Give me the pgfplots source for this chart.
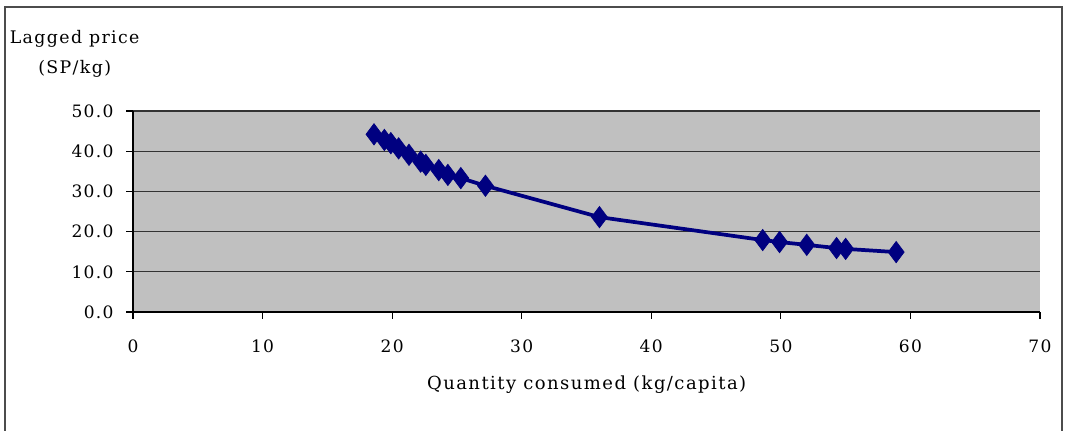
\documentclass[border=0pt]{standalone}
\usepackage{pgfplots}
\pgfplotsset{compat=1.18}
\usepackage{fontspec}
\setmainfont{DejaVu Serif}[LetterSpace=8]
\definecolor{navyblue}{RGB}{0,0,128}
\definecolor{plotbg}{RGB}{192,192,192}
\pgfplotstableread{
x y
18.6 44.2
19.4 42.8
19.9 42.0
20.5 40.7
21.3 39.1
22.2 37.4
22.6 36.6
23.6 35.3
24.3 34.1
25.3 33.3
27.2 31.4
36.0 23.6
48.6 17.9
49.9 17.4
52.0 16.7
54.3 15.9
55.0 15.7
58.9 14.9
}\datatable
\begin{document}
\begin{tikzpicture}[x=1pt,y=1pt]
\useasboundingbox (0,0) rectangle (798.75,323.25);
\draw[line width=1pt, black!70] (3.75,0) -- (3.75,318) -- (796.5,318) -- (796.5,0);
\node[align=center, font=\fontsize{13}{22.5}\selectfont] at (56,283) {Lagged price\\(SP/kg)};
\node[font=\fontsize{13.5}{15}\selectfont] at (440,35) {Quantity consumed (kg/capita)};
\begin{axis}[
  at={(99.75pt,89.25pt)}, anchor=south west,
  scale only axis, width=680.25pt, height=150.75pt,
  xmin=0, xmax=70, ymin=0, ymax=50,
  xtick={0,10,...,70}, ytick={0,10,...,50},
  axis x line*=bottom, axis y line*=left,
  axis line style={black, line width=0.9pt, -},
  axis background/.style={fill=plotbg},
  ymajorgrids, grid style={black!80, line width=0.8pt},
  tick align=outside, major tick length=5pt,
  tick style={black, line width=0.8pt},
  tick label style={font=\fontsize{12.8}{14}\selectfont},
  /pgf/number format/assume math mode=true,
  yticklabel={\pgfmathprintnumber[fixed,fixed zerofill,precision=1]{\tick}},
  xticklabel style={yshift=-12pt},
  yticklabel style={xshift=-6pt},
  clip=false,
]
\addplot[navyblue, line width=2.8pt, mark=diamond*, mark size=8pt, mark options={fill=navyblue, draw=navyblue, line width=0.5pt}] table[x=x,y=y] {\datatable};
\end{axis}
\end{tikzpicture}
\end{document}
